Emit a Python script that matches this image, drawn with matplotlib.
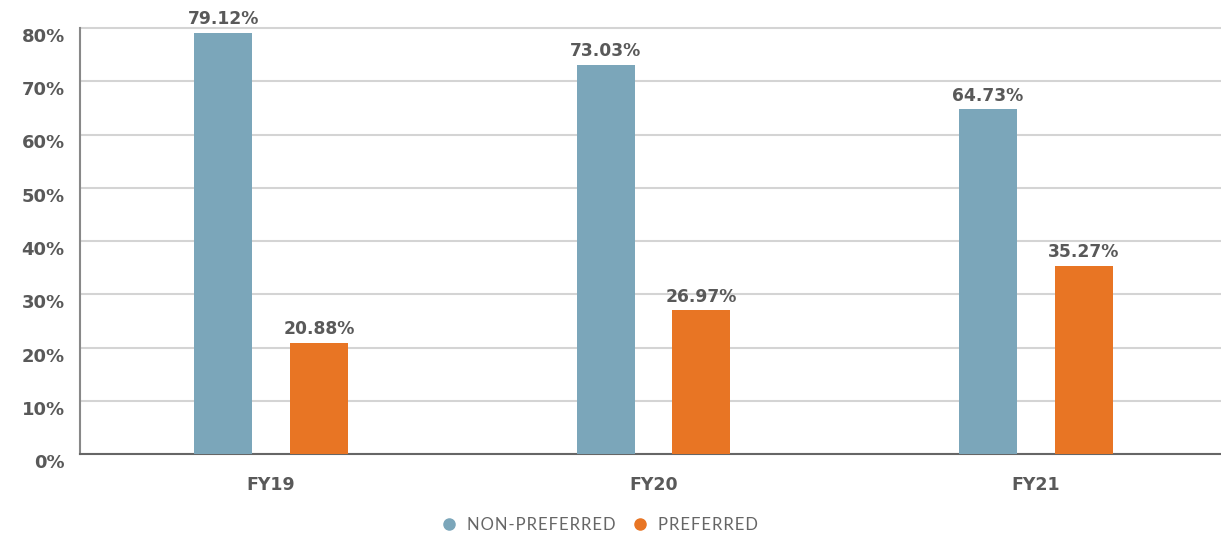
import matplotlib.pyplot as plt
import matplotlib.transforms as mtransforms
import numpy as np

years = ['FY19', 'FY20', 'FY21']
non_preferred = [79.12, 73.03, 64.73]
preferred = [20.88, 26.97, 35.27]
yticks = [0, 10, 20, 30, 40, 50, 60, 70, 80]
legend_labels = ['NON-PREFERRED', 'PREFERRED']

blue = '#7ba6ba'
orange = '#e87524'
grey = '#595959'

plt.rcParams['font.family'] = ['DejaVu Sans']

fig = plt.figure(figsize=(12.21, 5.39), dpi=100)
# axes runs 80% at y=28 to 0% at y=454
ax = fig.add_axes([80 / 1221, 1 - 454 / 539, 1147 / 1221, 428 / 539])

x = np.arange(len(years))
w = 0.152
b1 = ax.bar(x - 0.125, non_preferred, w, color=blue, zorder=3)
b2 = ax.bar(x + 0.125, preferred, w, color=orange, zorder=3)

for bars, vals in [(b1, non_preferred), (b2, preferred)]:
    for rect, v in zip(bars, vals):
        ax.text(rect.get_x() + rect.get_width() / 2, v + 0.9, f'{v:.2f}%',
                ha='center', va='bottom', fontsize=12.3, fontweight='bold', color=grey)

ax.set_xlim(-0.5, 2.5)
ax.set_ylim(0, 80 * 428 / 426)
ax.set_yticks(yticks)
ax.set_yticklabels([f'{t}%' for t in yticks])
ax.set_xticks(x)
ax.set_xticklabels(years)
ax.tick_params(axis='y', length=0, pad=11, labelsize=13, labelcolor=grey)
ax.tick_params(axis='x', length=0, pad=16, labelsize=12.5, labelcolor=grey)
shift = mtransforms.ScaledTranslation(0, -7 / 100, fig.dpi_scale_trans)
for lbl in ax.get_yticklabels():
    lbl.set_fontweight('bold')
    lbl.set_transform(lbl.get_transform() + shift)
for lbl in ax.get_xticklabels():
    lbl.set_fontweight('bold')

ax.yaxis.grid(True, color='#d4d4d4', linewidth=1.5, zorder=0)
ax.set_axisbelow(True)
for s in ['top', 'right']:
    ax.spines[s].set_visible(False)
ax.spines['left'].set_color('#888888')
ax.spines['left'].set_linewidth(1.5)
ax.spines['left'].set_bounds(0, 80)
ax.spines['bottom'].set_color('#666666')
ax.spines['bottom'].set_linewidth(1.5)

handles = [plt.Line2D([], [], marker='o', linestyle='', color=blue, markersize=8),
           plt.Line2D([], [], marker='o', linestyle='', color=orange, markersize=8)]
spaced = ['\u200a'.join(s) for s in legend_labels]
fig.legend(handles, spaced,
           loc='center', bbox_to_anchor=(595 / 1221, 1 - 525 / 539), ncol=2, frameon=False,
           handletextpad=0.05, columnspacing=0.5, labelcolor='#666666',
           prop={'size': 12, 'family': ['Lato', 'DejaVu Sans']})

fig.savefig('out.png', dpi=100)
